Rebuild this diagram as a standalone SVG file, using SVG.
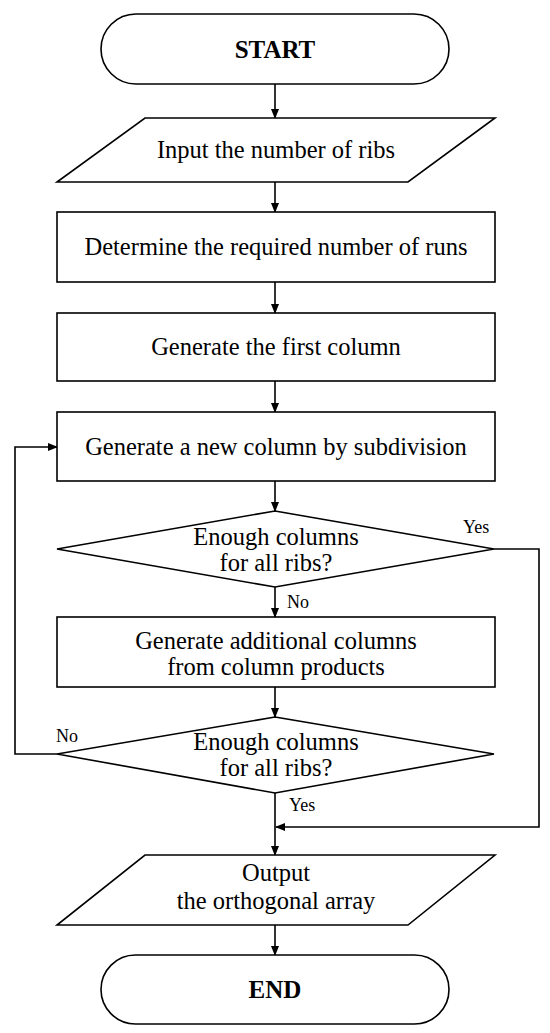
<svg xmlns="http://www.w3.org/2000/svg" width="550" height="1033" viewBox="0 0 550 1033">
<defs>
<marker id="ah" markerWidth="10" markerHeight="10" refX="9" refY="5" orient="auto" markerUnits="userSpaceOnUse">
<path d="M0,1 L10,5 L0,9 Z" fill="#000"/>
</marker>
<style>
.s{fill:#fff;stroke:#000;stroke-width:1.6}
.t{font-family:"Liberation Serif","Times New Roman",serif;font-size:24.5px;fill:#000;text-anchor:middle}
.b{font-weight:bold;font-size:25px}
.l{font-family:"Liberation Serif","Times New Roman",serif;font-size:18px;fill:#000}
.c{fill:none;stroke:#000;stroke-width:1.6;marker-end:url(#ah)}
</style>
</defs>
<rect width="550" height="1033" fill="#fff"/>
<g id="connectors">
<line class="c" x1="275" y1="84" x2="275" y2="118"/>
<line class="c" x1="275" y1="182" x2="275" y2="212"/>
<line class="c" x1="275" y1="282" x2="275" y2="313"/>
<line class="c" x1="275" y1="381" x2="275" y2="412"/>
<line class="c" x1="275" y1="481" x2="275" y2="511"/>
<line class="c" x1="275" y1="587" x2="275" y2="617"/>
<line class="c" x1="275" y1="687" x2="275" y2="717"/>
<line class="c" x1="275" y1="793" x2="275" y2="855"/>
<line class="c" x1="275" y1="925" x2="275" y2="955"/>
<polyline class="c" points="57,754 15,754 15,447 57,447"/>
<polyline class="c" points="494,549 539,549 539,827 276,827"/>
<text class="l" x="463" y="533">Yes</text>
<text class="l" x="287" y="608">No</text>
<text class="l" x="56" y="742">No</text>
<text class="l" x="289" y="811">Yes</text>
</g>
<g id="start">
<rect class="s" x="101" y="14" width="348" height="70" rx="35" ry="35"/>
<text class="t b" x="275" y="58">START</text>
</g>
<g id="input">
<polygon class="s" points="145,118 495,118 408,182 57,182"/>
<text class="t" x="276" y="158">Input the number of ribs</text>
</g>
<g id="runs">
<rect class="s" x="57" y="212" width="438" height="70"/>
<text class="t" x="276" y="255">Determine the required number of runs</text>
</g>
<g id="first">
<rect class="s" x="57" y="313" width="438" height="68"/>
<text class="t" x="276" y="355">Generate the first column</text>
</g>
<g id="newcol">
<rect class="s" x="57" y="412" width="438" height="69"/>
<text class="t" x="276" y="455">Generate a new column by subdivision</text>
</g>
<g id="check1">
<polygon class="s" points="275,511 494,549 275,587 57,549"/>
<text class="t" x="276" y="545">Enough columns</text>
<text class="t" x="276" y="571">for all ribs?</text>
</g>
<g id="additional">
<rect class="s" x="57" y="617" width="438" height="70"/>
<text class="t" x="276" y="649">Generate additional columns</text>
<text class="t" x="276" y="675">from column products</text>
</g>
<g id="check2">
<polygon class="s" points="275,717 494,754 275,793 57,754"/>
<text class="t" x="276" y="750">Enough columns</text>
<text class="t" x="276" y="776">for all ribs?</text>
</g>
<g id="output">
<polygon class="s" points="145,855 495,855 408,925 57,925"/>
<text class="t" x="276" y="881">Output</text>
<text class="t" x="276" y="909">the orthogonal array</text>
</g>
<g id="end">
<rect class="s" x="101" y="955" width="348" height="69" rx="34.5" ry="34.5"/>
<text class="t b" x="275" y="998">END</text>
</g>
</svg>
